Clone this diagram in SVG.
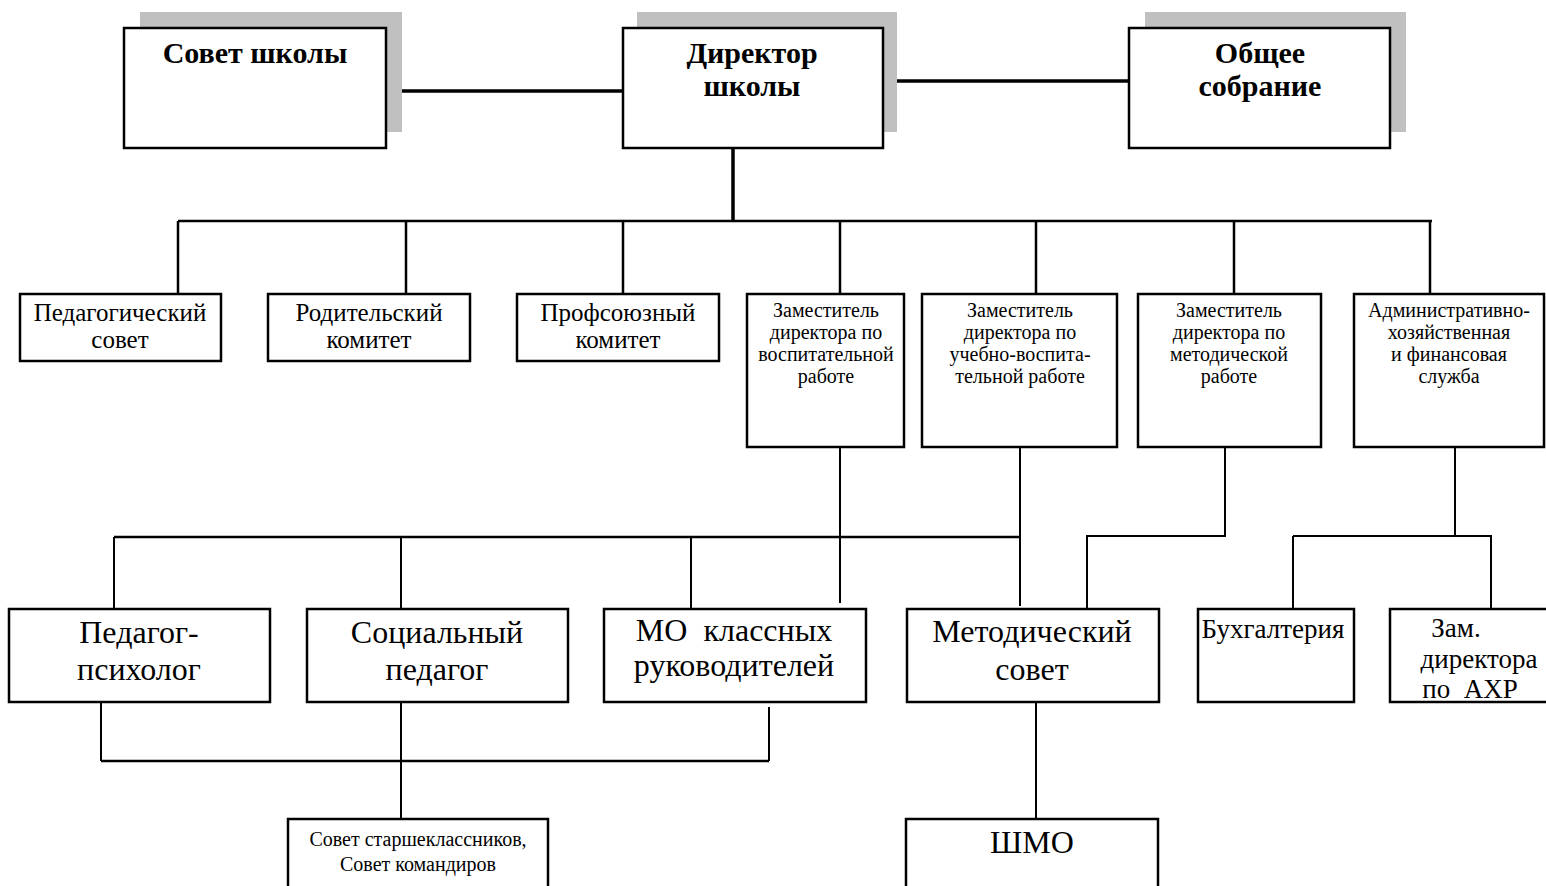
<svg xmlns="http://www.w3.org/2000/svg" width="1546" height="886" viewBox="0 0 1546 886">
<style>
.box{fill:#fff;stroke:#000;stroke-width:2.5}
.sh{fill:#c0c0c0}
.t{font-family:"Liberation Serif","Times New Roman",serif;fill:#000;text-anchor:middle}
.b{font-weight:bold;font-size:30px}
.m{font-size:25px}
.z{font-size:27px}
.s{font-size:20px}
.l{font-size:32px}
.c{fill:none;stroke:#000;stroke-width:2.5}
.c2{fill:none;stroke:#000;stroke-width:2}
.c3{fill:none;stroke:#000;stroke-width:3.5}
</style>
<rect width="1546" height="886" fill="#fff"/>
<g id="connectors">
<path class="c3" d="M386 91H623M883 81H1129"/>
<path class="c3" d="M733 148V221"/>
<path class="c" d="M178 221H1432M178 221V294M406 221V294M623 221V294M840 221V294M1036 221V294M1234 221V294M1430 221V294"/>
<path class="c2" d="M840 447V603M1020 447V606"/>
<path class="c" d="M114 537H1020"/>
<path class="c2" d="M114 537V609M401 537V609M691 537V609"/>
<path class="c2" d="M1225 447V536H1087V609"/>
<path class="c2" d="M1455 447V536M1293 536H1492M1293 536V609M1491 536V609"/>
<path class="c2" d="M101 702V761M401 702V819M769 707V761"/>
<path class="c" d="M101 761H769"/>
<path class="c2" d="M1036 702V819"/>
</g>
<g id="sovet-shkoly">
<rect class="sh" x="140" y="12" width="262" height="120"/>
<rect class="box" x="124" y="28" width="262" height="120"/>
<text class="t b" x="255" y="63">Совет школы</text>
</g>
<g id="direktor">
<rect class="sh" x="637" y="12" width="260" height="120"/>
<rect class="box" x="623" y="28" width="260" height="120"/>
<text class="t b" x="752" y="63">Директор</text>
<text class="t b" x="752" y="96">школы</text>
</g>
<g id="obshchee-sobranie">
<rect class="sh" x="1145" y="12" width="261" height="120"/>
<rect class="box" x="1129" y="28" width="261" height="120"/>
<text class="t b" x="1260" y="63">Общее</text>
<text class="t b" x="1260" y="96">собрание</text>
</g>
<g id="ped-sovet">
<rect class="box" x="20" y="294" width="201" height="67"/>
<text class="t m" x="120" y="321">Педагогический</text>
<text class="t m" x="120" y="348">совет</text>
</g>
<g id="rod-komitet">
<rect class="box" x="268" y="294" width="202" height="67"/>
<text class="t m" x="369" y="321">Родительский</text>
<text class="t m" x="369" y="348">комитет</text>
</g>
<g id="prof-komitet">
<rect class="box" x="517" y="294" width="202" height="67"/>
<text class="t m" x="618" y="321">Профсоюзный</text>
<text class="t m" x="618" y="348">комитет</text>
</g>
<g id="zam-vosp">
<rect class="box" x="747" y="294" width="157" height="153"/>
<text class="t s" x="826" y="317">Заместитель</text>
<text class="t s" x="826" y="339">директора по</text>
<text class="t s" x="826" y="361">воспитательной</text>
<text class="t s" x="826" y="383">работе</text>
</g>
<g id="zam-uvr">
<rect class="box" x="922" y="294" width="195" height="153"/>
<text class="t s" x="1020" y="317">Заместитель</text>
<text class="t s" x="1020" y="339">директора по</text>
<text class="t s" x="1020" y="361">учебно-воспита-</text>
<text class="t s" x="1020" y="383">тельной работе</text>
</g>
<g id="zam-metod">
<rect class="box" x="1138" y="294" width="183" height="153"/>
<text class="t s" x="1229" y="317">Заместитель</text>
<text class="t s" x="1229" y="339">директора по</text>
<text class="t s" x="1229" y="361">методической</text>
<text class="t s" x="1229" y="383">работе</text>
</g>
<g id="admin">
<rect class="box" x="1354" y="294" width="190" height="153"/>
<text class="t s" x="1449" y="317">Административно-</text>
<text class="t s" x="1449" y="339">хозяйственная</text>
<text class="t s" x="1449" y="361">и финансовая</text>
<text class="t s" x="1449" y="383">служба</text>
</g>
<g id="ped-psiholog">
<rect class="box" x="9" y="609" width="261" height="93"/>
<text class="t l" x="139" y="643">Педагог-</text>
<text class="t l" x="139" y="680">психолог</text>
</g>
<g id="soc-pedagog">
<rect class="box" x="307" y="609" width="261" height="93"/>
<text class="t l" x="437" y="643">Социальный</text>
<text class="t l" x="437" y="680">педагог</text>
</g>
<g id="mo-kl">
<rect class="box" x="604" y="609" width="262" height="93"/>
<text class="t l" x="734" y="641" xml:space="preserve">МО  классных</text>
<text class="t l" x="734" y="676">руководителей</text>
</g>
<g id="metod-sovet">
<rect class="box" x="907" y="609" width="252" height="93"/>
<text class="t l" x="1032" y="642">Методический</text>
<text class="t l" x="1032" y="680">совет</text>
</g>
<g id="buhgalteriya">
<rect class="box" x="1198" y="609" width="156" height="93"/>
<text class="t z" x="1273" y="638">Бухгалтерия</text>
</g>
<g id="zam-ahr">
<rect class="box" x="1390" y="609" width="158" height="93"/>
<text class="t z" x="1456" y="637">Зам.</text>
<text class="t z" x="1479" y="668">директора</text>
<text class="t z" x="1470" y="698" xml:space="preserve">по  АХР</text>
</g>
<g id="sovet-starsh">
<rect class="box" x="288" y="819" width="260" height="80"/>
<text class="t s" x="418" y="846">Совет старшеклассников,</text>
<text class="t s" x="418" y="871">Совет командиров</text>
</g>
<g id="shmo">
<rect class="box" x="906" y="819" width="252" height="80"/>
<text class="t l" x="1032" y="853">ШМО</text>
</g>
</svg>
